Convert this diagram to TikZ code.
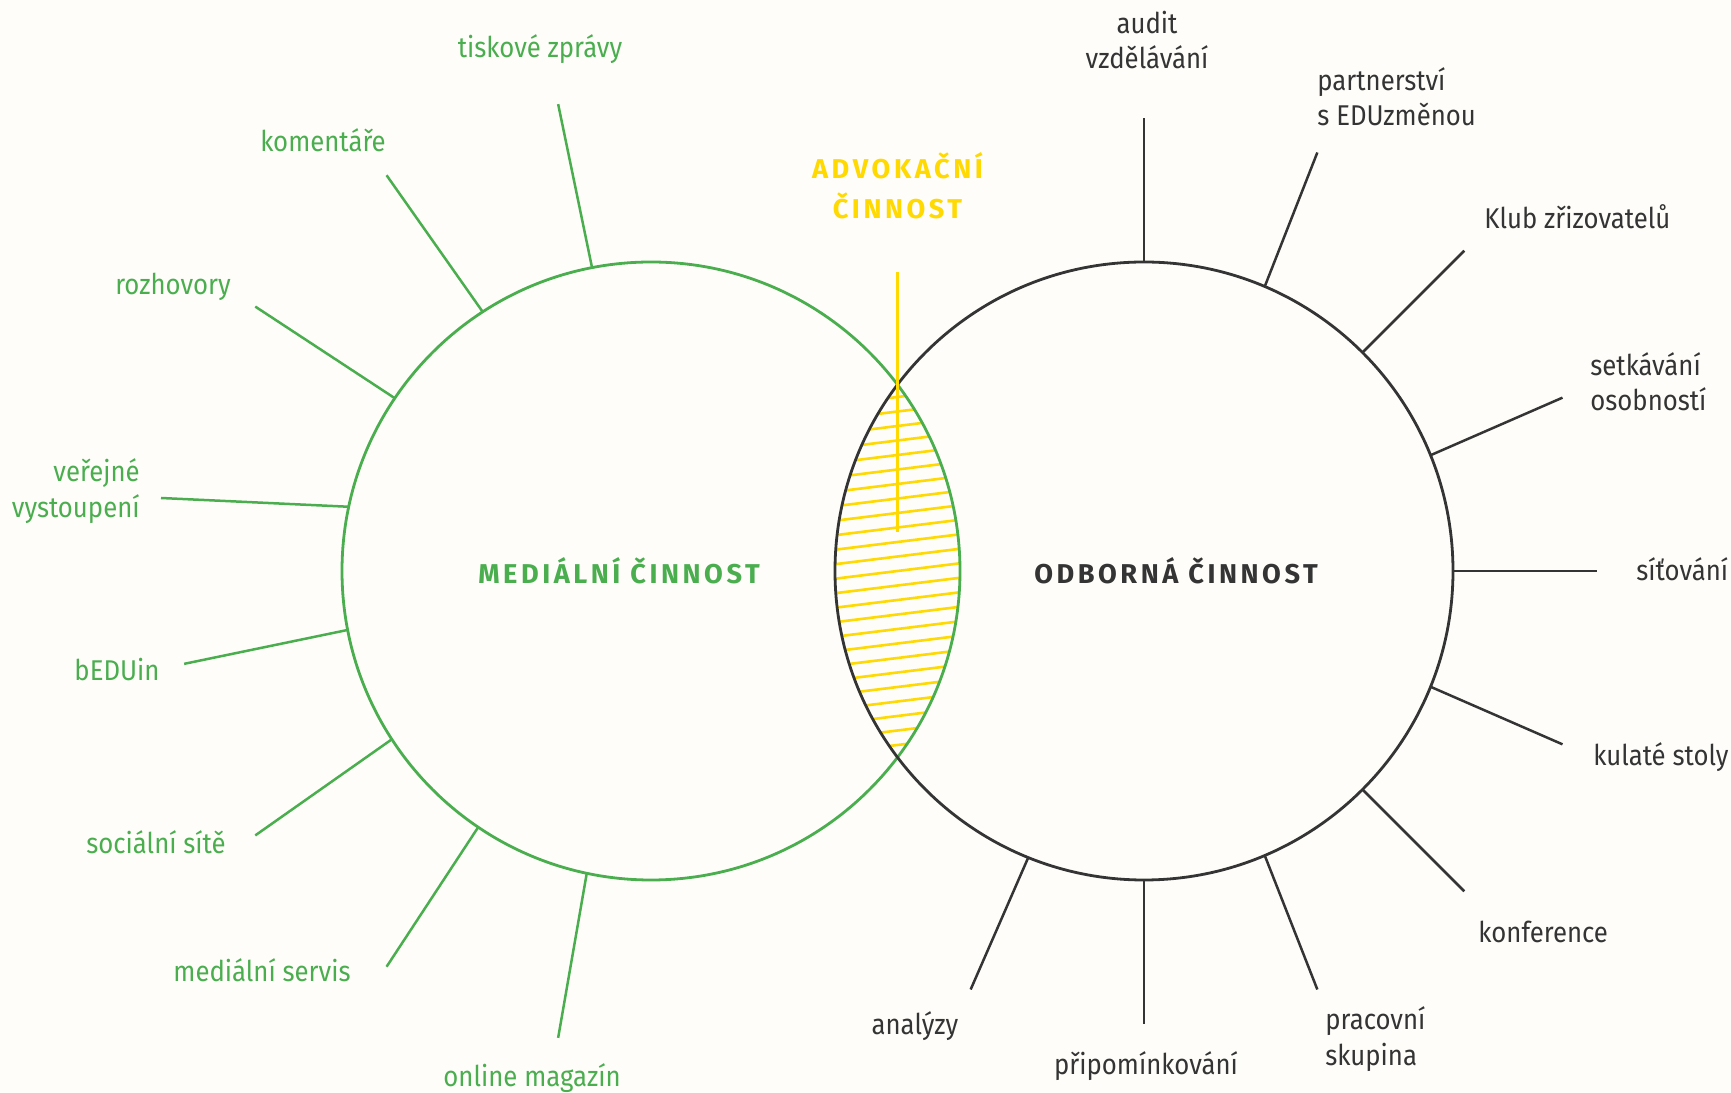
\documentclass[tikz,border=0pt]{standalone}
\usepackage{fontspec}
\setmainfont{Fira Sans}[FakeStretch=0.9]
\newfontfamily\headfont{Fira Sans}[LetterSpace=13]
\definecolor{medgreen}{RGB}{74,174,79}
\definecolor{odbgray}{RGB}{52,52,52}
\definecolor{advyellow}{RGB}{255,217,0}
\definecolor{paper}{RGB}{254,253,249}
\tikzset{
  activity/.style={circle, draw, line width=1.4pt, minimum size=309pt, inner sep=0pt, outer sep=0pt},
  ray/.style={line width=1.25pt},
  itemtext/.style={font=\fontsize{14.3}{17.6}\selectfont, inner sep=0pt},
  headtext/.style={font=\headfont\bfseries\fontsize{13.6}{20}\selectfont, inner sep=0pt, align=center}
}
\begin{document}
\begin{tikzpicture}[x=0.5pt,y=0.5pt]
\fill[paper] (0,0) rectangle (1731,1093);
\useasboundingbox (0,0) rectangle (1731,1093);

\coordinate (medc) at (651,522);
\coordinate (odbc) at (1144,522);

% advocacy: hatched lens
\begin{scope}
  \clip (medc) circle (309);
  \clip (odbc) circle (309);
  \foreach \k in {-14,...,14}
    \draw[advyellow, line width=1.3pt] (760,522+14.5*\k-17) -- (1035,522+14.5*\k+17);
\end{scope}

\node[activity, medgreen] (med) at (medc) {};
\node[activity, odbgray] (odb) at (odbc) {};

% rays
\foreach \a [count=\i] in {101.25,123.75,146.25,168.75,191.25,213.75,236.25,258.75}{
  \coordinate (mend\i) at ([shift={(\a:476)}]medc);
}
\coordinate (mend4) at (161,595);
\foreach \a [count=\i] in {101.25,123.75,146.25,168.75,191.25,213.75,236.25,258.75}
  \draw[ray, medgreen] (med.\a) -- (mend\i);
\foreach \a [count=\i] in {90,67.5,45,22.5,0,-22.5,-45,-67.5,-90,-112.5}{
  \coordinate (oend\i) at ([shift={(\a:453)}]odbc);
  \draw[ray, odbgray] (odb.\a) -- (oend\i);
}

% headings
\node[headtext, medgreen] (medtitle) at (619,522) {MEDIÁLNÍ ČINNOST};
\node[headtext, odbgray] (odbtitle) at (1176,522) {ODBORNÁ ČINNOST};
\node[headtext, advyellow] (advtitle) at (897.5,907) {ADVOKAČNÍ\\ČINNOST};
\coordinate (advend) at (897.5,561);
\draw[advyellow, line width=1.25pt] (897.5,821) -- (advend);

% media items
\node[itemtext, medgreen] (tisk) at (540,1044) {tiskové zprávy};
\node[itemtext, medgreen] (koment) at (323,953) {komentáře};
\node[itemtext, medgreen] (rozhov) at (173,806) {rozhovory};
\node[itemtext, medgreen, anchor=east, align=right] (verej) at (140,602) {veřejné\\vystoupení};
\node[itemtext, medgreen] (beduin) at (117,423) {bEDUin};
\node[itemtext, medgreen] (social) at (156,251) {sociální sítě};
\node[itemtext, medgreen] (servis) at (262,123) {mediální servis};
\node[itemtext, medgreen] (magazin) at (532,15) {online magazín};

% expert items
\node[itemtext, odbgray, align=center] (audit) at (1147,1053) {audit\\vzdělávání};
\node[itemtext, odbgray, anchor=west, align=left] (partner) at (1317,996) {partnerství\\s EDUzměnou};
\node[itemtext, odbgray, anchor=west] (klub) at (1484,876) {Klub zřizovatelů};
\node[itemtext, odbgray, anchor=west, align=left] (setkav) at (1590,711) {setkávání\\osobností};
\node[itemtext, odbgray, anchor=west] (sitov) at (1636,524) {síťování};
\node[itemtext, odbgray, anchor=west] (kulate) at (1593,336) {kulaté stoly};
\node[itemtext, odbgray, anchor=west] (konfer) at (1478,161) {konference};
\node[itemtext, odbgray, anchor=west, align=left] (pracov) at (1325,54) {pracovní\\skupina};
\node[itemtext, odbgray] (pripom) at (1146,27) {připomínkování};
\node[itemtext, odbgray] (analyzy) at (915,67) {analýzy};
\end{tikzpicture}
\end{document}
